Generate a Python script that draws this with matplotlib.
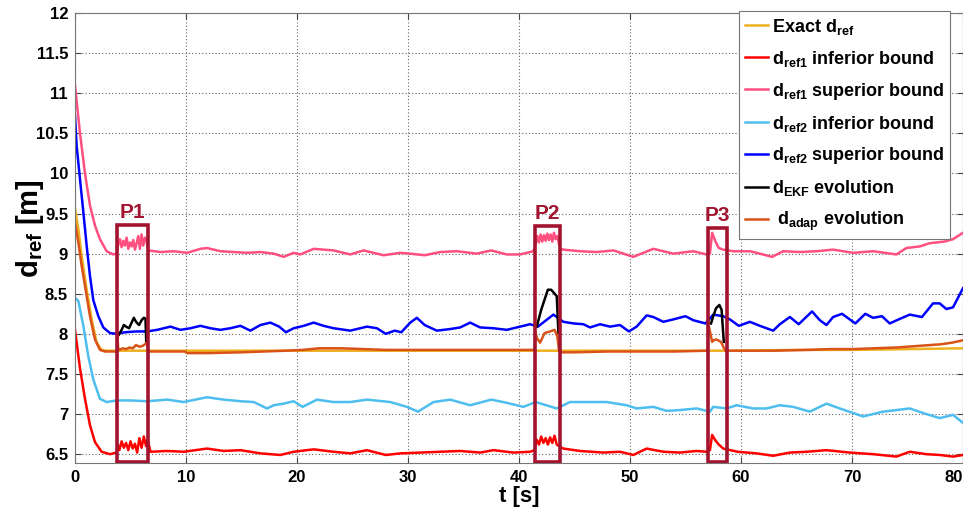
import numpy as np
import matplotlib
matplotlib.use("Agg")
import matplotlib.pyplot as plt
from matplotlib.patches import Rectangle

plt.rcParams['font.family'] = ['Liberation Sans', 'DejaVu Sans']
plt.rcParams['font.weight'] = 'bold'
plt.rcParams['mathtext.fontset'] = 'custom'
plt.rcParams['mathtext.rm'] = 'Liberation Sans:bold'
plt.rcParams['mathtext.it'] = 'Liberation Sans:bold'
plt.rcParams['mathtext.bf'] = 'Liberation Sans:bold'

# ---------------- data ----------------
t_exact = [0, 0.3, 0.6, 1.05, 1.5, 1.95, 2.4, 2.8, 10, 20, 30, 40, 50, 60, 65, 70, 75, 80]
v_exact = [9.56, 9.31, 8.97, 8.55, 8.18, 7.89, 7.80, 7.79, 7.79, 7.79, 7.79, 7.79, 7.79, 7.79, 7.80, 7.80, 7.81, 7.82]

t_ref1_inf = [0, 0.45, 0.9, 1.35, 1.8, 2.4, 3.15, 3.75,
              3.85, 4.0, 4.2, 4.4, 4.6, 4.8, 5.0, 5.2, 5.4, 5.6, 5.8, 6.0, 6.2, 6.4, 6.55,
              6.8, 8.3, 9.8, 11.9, 13.4, 14.9, 16.7, 18.5, 19.7,
              21.5, 23.3, 24.8, 26.3, 28.0, 29.3, 31.1, 32.9, 34.7, 36.5, 37.7, 39.5, 41.0, 41.4,
              41.6, 41.8, 42.0, 42.2, 42.4, 42.6, 42.8, 43.0, 43.2, 43.4, 43.6,
              44.0, 45.5, 47.6, 49.1, 50.3, 51.5, 53.0, 54.5, 56.0, 56.9,
              57.2, 57.4, 57.7, 58.0, 58.4,
              59.7, 61.4, 62.9, 64.4, 65.9, 67.7, 69.8, 71.9, 74.0, 75.2, 76.7, 77.9, 79.1, 80]
v_ref1_inf = [8.05, 7.57, 7.19, 6.86, 6.65, 6.53, 6.50, 6.52,
              6.62, 6.55, 6.66, 6.58, 6.64, 6.55, 6.66, 6.57, 6.63, 6.52, 6.70, 6.58, 6.72, 6.60, 6.68,
              6.53, 6.54, 6.53, 6.57, 6.54, 6.55, 6.51, 6.49, 6.53,
              6.56, 6.53, 6.51, 6.55, 6.49, 6.51, 6.52, 6.53, 6.54, 6.52, 6.55, 6.52, 6.53, 6.55,
              6.68, 6.62, 6.72, 6.64, 6.70, 6.62, 6.71, 6.64, 6.73, 6.62, 6.60,
              6.57, 6.54, 6.52, 6.53, 6.49, 6.57, 6.53, 6.52, 6.54, 6.53,
              6.55, 6.74, 6.67, 6.62, 6.57,
              6.53, 6.51, 6.48, 6.52, 6.53, 6.55, 6.52, 6.50, 6.47, 6.53, 6.50, 6.49, 6.47, 6.49]

t_ref1_sup = [0, 0.45, 0.9, 1.35, 1.8, 2.25, 2.85, 3.45, 3.75,
              3.9, 4.05, 4.2, 4.35, 4.5, 4.65, 4.8, 4.95, 5.1, 5.25, 5.4, 5.55, 5.7, 5.85, 6.0, 6.15, 6.3, 6.45, 6.6,
              7.7, 8.9, 10.1, 11.3, 11.9, 13.1, 14.3, 15.5, 16.7, 17.9, 18.8, 19.7, 20.3, 21.5, 23.3, 24.8,
              26.0, 27.8, 29.3, 30.2, 31.5, 32.9, 34.4, 36.2, 37.5, 38.9, 40.1, 41.3,
              41.5, 41.65, 41.8, 41.95, 42.1, 42.25, 42.4, 42.55, 42.7, 42.85, 43.0, 43.15, 43.3, 43.45, 43.6, 43.75,
              44.0, 45.5, 47.0, 48.5, 50.3, 52.1, 53.9, 55.7, 56.9, 57.2, 57.4, 57.7, 58.0, 58.4, 59.3,
              60.8, 61.4, 62.8, 63.8, 65.3, 66.8, 68.3, 70.1, 71.9, 74.0, 74.9, 76.1, 77.0, 78.3, 79.1, 80]
v_ref1_sup = [11.1, 10.5, 10.0, 9.6, 9.35, 9.18, 9.03, 8.99, 9.0,
              9.12, 9.18, 9.08, 9.16, 9.1, 9.2, 9.06, 9.14, 9.09, 9.17, 9.05, 9.13, 9.22, 9.06, 9.24, 9.1, 9.2, 9.15, 9.04,
              9.02, 9.03, 9.01, 9.06, 9.07, 9.03, 9.02, 9.01, 9.02, 9.0, 8.96, 9.01, 8.99, 9.06, 9.04, 8.99,
              9.04, 8.98, 9.01, 9.0, 8.98, 9.02, 9.03, 9.0, 9.04, 8.99, 8.99, 9.03,
              9.12, 9.22, 9.14, 9.24, 9.15, 9.23, 9.16, 9.25, 9.17, 9.24, 9.15, 9.26, 9.18, 9.22, 9.12, 9.06,
              9.05, 9.03, 9.02, 9.04, 8.96, 9.06, 9.0, 9.03, 8.99, 9.0, 9.26, 9.15, 9.07, 9.05, 9.03,
              9.03, 9.01, 8.96, 9.03, 9.02, 9.03, 9.05, 9.01, 9.03, 8.99, 9.07, 9.09, 9.13, 9.15, 9.18, 9.26]

t_ref2_inf = [0, 0.3, 0.75, 1.2, 1.65, 2.25, 2.85, 3.75, 5.0, 6.5,
              8.3, 9.8, 11.9, 13.4, 14.9, 16.1, 17.3, 17.9, 18.8, 19.7,
              20.5, 21.8, 23.3, 24.8, 26.3, 28.4, 29.9, 30.9, 32.3, 33.8,
              35.6, 37.5, 38.9, 40.4, 41.5, 43.4, 44.6, 46.1, 47.9, 49.7,
              50.6, 52.1, 53.3, 54.5, 56.0, 57.2, 57.5, 58.7, 59.6, 61.1,
              62.3, 63.5, 64.7, 66.2, 67.7, 68.9, 71.0, 72.8, 75.2, 76.7,
              77.9, 79.1, 80]
v_ref2_inf = [8.45, 8.41, 8.1, 7.72, 7.43, 7.19, 7.15, 7.17, 7.17, 7.16,
              7.18, 7.15, 7.21, 7.18, 7.16, 7.15, 7.07, 7.11, 7.13, 7.16,
              7.09, 7.18, 7.15, 7.15, 7.18, 7.15, 7.09, 7.03, 7.15, 7.18,
              7.11, 7.18, 7.14, 7.09, 7.15, 7.07, 7.15, 7.15, 7.15, 7.11,
              7.07, 7.09, 7.04, 7.05, 7.07, 7.03, 7.09, 7.07, 7.11, 7.07,
              7.07, 7.11, 7.09, 7.03, 7.13, 7.07, 6.97, 7.03, 7.07, 7.0,
              6.95, 6.99, 6.89]

t_ref2_sup = [0, 0.15, 0.45, 0.75, 1.05, 1.35, 1.65, 2.1, 2.55, 3.15,
              3.75, 4.5, 5.5, 6.5, 7.4, 8.6, 9.5, 10.4, 11.3, 12.2,
              13.1, 14.0, 14.9, 15.8, 16.7, 17.6, 18.4, 19.0, 19.7, 20.6,
              21.5, 22.4, 23.3, 24.8, 26.3, 27.2, 28.0, 28.8, 29.4, 30.2,
              30.8, 31.5, 32.6, 33.8, 34.7, 35.6, 36.5, 37.7, 38.9, 40.1,
              41.0, 41.7, 43.1, 44.0, 44.9, 45.8, 46.4, 47.3, 48.2, 49.1,
              49.9, 50.6, 51.5, 52.1, 53.0, 53.9, 55.0, 55.7, 56.8, 57.5,
              58.4, 59.0, 59.8, 60.8, 61.7, 62.9, 63.5, 64.4, 65.2, 66.4,
              67.1, 67.7, 68.3, 69.1, 70.3, 71.2, 71.9, 72.7, 73.4, 74.2,
              75.2, 76.3, 77.3, 77.9, 78.5, 79.1, 80]
v_ref2_sup = [10.72, 10.34, 9.93, 9.52, 9.1, 8.72, 8.42, 8.22, 8.08, 8.01,
              8.0, 8.02, 8.03, 8.03, 8.05, 8.09, 8.05, 8.07, 8.10, 8.07,
              8.05, 8.07, 8.1, 8.04, 8.11, 8.14, 8.09, 8.02, 8.07, 8.1,
              8.14, 8.1, 8.07, 8.04, 8.09, 8.07, 8.0, 8.04, 8.02, 8.14,
              8.2, 8.11, 8.04, 8.06, 8.08, 8.14, 8.08, 8.07, 8.05, 8.09,
              8.12, 8.09, 8.24, 8.15, 8.13, 8.12, 8.08, 8.12, 8.09, 8.11,
              8.03, 8.09, 8.23, 8.21, 8.15, 8.18, 8.22, 8.17, 8.13, 8.24,
              8.22, 8.18, 8.1, 8.15, 8.1, 8.04, 8.12, 8.21, 8.12, 8.28,
              8.17, 8.11, 8.21, 8.25, 8.13, 8.25, 8.2, 8.22, 8.13, 8.18,
              8.24, 8.21, 8.38, 8.38, 8.31, 8.33, 8.57]

nan = float('nan')
t_ekf = [3.96, 4.2, 4.4, 4.6, 4.87, 5.1, 5.3, 5.5, 5.77, 6.0, 6.2, 6.35, 6.42, 6.43,
         41.6, 42.0, 42.6, 42.9, 43.4, 43.55, 43.56,
         57.3, 57.5, 57.75, 58.05, 58.25, 58.45]
v_ekf = [7.99, 8.05, 8.11, 8.09, 8.07, 8.14, 8.2, 8.15, 8.11, 8.17, 8.2, 8.19, 7.89, nan,
         8.09, 8.3, 8.55, 8.55, 8.47, 8.01, nan,
         8.13, 8.22, 8.32, 8.36, 8.3, 7.9]

t_adap = [0, 0.3, 0.6, 0.9, 1.35, 1.8, 2.25, 2.7, 3.8,
          3.82, 3.9, 4.0, 4.3, 4.6, 4.9, 5.2, 5.5, 5.8, 6.1, 6.4, 6.5, 6.6,
          8, 9.9, 10.1, 12, 15, 17, 19, 20.5, 22, 24, 26, 28, 30, 33, 36, 39, 41.4,
          41.5, 41.6, 41.9, 42.3, 42.8, 43.2, 43.45, 43.6, 43.7,
          45, 48, 51, 54, 57.0,
          57.05, 57.4, 57.5, 57.8, 58.2, 58.4, 58.6,
          60, 63, 66, 68, 70, 72, 74, 76, 78, 79, 80]
v_adap = [9.39, 9.14, 8.85, 8.6, 8.22, 7.93, 7.80, 7.78, 7.78,
          7.99, 7.80, 7.80, 7.82, 7.81, 7.83, 7.82, 7.86, 7.84, 7.85, 7.88, 7.89, 7.78,
          7.78, 7.78, 7.76, 7.76, 7.77, 7.78, 7.79, 7.80, 7.82, 7.82, 7.81, 7.80, 7.80, 7.80, 7.80, 7.80, 7.80,
          8.01, 7.95, 7.89, 8.01, 8.03, 8.05, 7.97, 7.80, 7.77,
          7.77, 7.78, 7.78, 7.78, 7.79,
          8.13, 7.90, 7.92, 7.93, 7.90, 7.84, 7.79,
          7.79, 7.79, 7.80, 7.81, 7.81, 7.82, 7.83, 7.85, 7.87, 7.89, 7.92]

window_labels = ['P1', 'P2', 'P3']
window_start = [3.75, 41.45, 57.0]
window_end = [6.6, 43.7, 58.7]
window_top = [9.36, 9.34, 9.32]

xticks = list(range(0, 81, 10))
yticks = [6.5, 7, 7.5, 8, 8.5, 9, 9.5, 10, 10.5, 11, 11.5, 12]
ytick_labels = ['6.5', '7', '7.5', '8', '8.5', '9', '9.5', '10', '10.5', '11', '11.5', '12']

series = [
    (t_exact, v_exact, '#EDB120', r'Exact d$_{ref}$'),
    (t_ref1_inf, v_ref1_inf, '#FF0000', r'd$_{ref1}$ inferior bound'),
    (t_ref1_sup, v_ref1_sup, '#FF5080', r'd$_{ref1}$ superior bound'),
    (t_ref2_inf, v_ref2_inf, '#4DBEEE', r'd$_{ref2}$ inferior bound'),
    (t_ref2_sup, v_ref2_sup, '#0000FF', r'd$_{ref2}$ superior bound'),
    (t_ekf, v_ekf, '#000000', r'd$_{EKF}$ evolution'),
    (t_adap, v_adap, '#D95319', r' d$_{adap}$ evolution'),
]
for tt, vv, _, _ in series:
    assert len(tt) == len(vv)

# ---------------- plot ----------------
fig = plt.figure(figsize=(9.63, 5.08), dpi=100)
ax = fig.add_axes([75 / 963, 1 - 463 / 508, 888 / 963, 450 / 508])

for tt, vv, col, lab in series:
    ax.plot(tt, vv, color=col, lw=1.8, label=lab)

box_col = '#A2142F'
for lab, s, e, top in zip(window_labels, window_start, window_end, window_top):
    ax.add_patch(Rectangle((s, 6.4), e - s, top - 6.4, fill=False, ec=box_col, lw=2.6, zorder=5))
    ax.text((s + e) / 2, top + 0.04, lab, color=box_col, fontsize=15, fontweight='bold',
            ha='center', va='bottom')

ax.set_xlim(0, 80)
ax.set_ylim(6.39, 12)
ax.set_xticks(xticks)
ax.set_yticks(yticks)
ax.set_yticklabels(ytick_labels)
ax.tick_params(direction='in', length=4, labelsize=12, top=True, right=True, pad=5, colors='#444',
               labelcolor='black')
for lbl in ax.get_xticklabels() + ax.get_yticklabels():
    lbl.set_fontweight('bold')
xl = ax.get_xticklabels()
xl[-1].set_horizontalalignment('right')
ax.grid(True, linestyle=(0, (1, 2)), color='#666', lw=0.8)
for sp in ax.spines.values():
    sp.set_color('#777')

ax.set_ylabel(r'd$_{ref}$ [m]', fontsize=21, fontweight='bold')
ax.yaxis.set_label_coords(-0.033, 0.52)
ax.set_xlabel('t [s]', fontsize=16, fontweight='bold', labelpad=1)

leg = ax.legend(loc='upper right', bbox_to_anchor=(950 / 963, 1 - 11 / 508),
                bbox_transform=fig.transFigure, fontsize=13, handlelength=1.3,
                handletextpad=0.2, labelspacing=0.66, borderpad=0.32, borderaxespad=0,
                fancybox=False, framealpha=1, edgecolor='#777')
for txt in leg.get_texts():
    txt.set_fontweight('bold')
leg.get_frame().set_linewidth(0.8)

fig.savefig('out.png', dpi=100)
